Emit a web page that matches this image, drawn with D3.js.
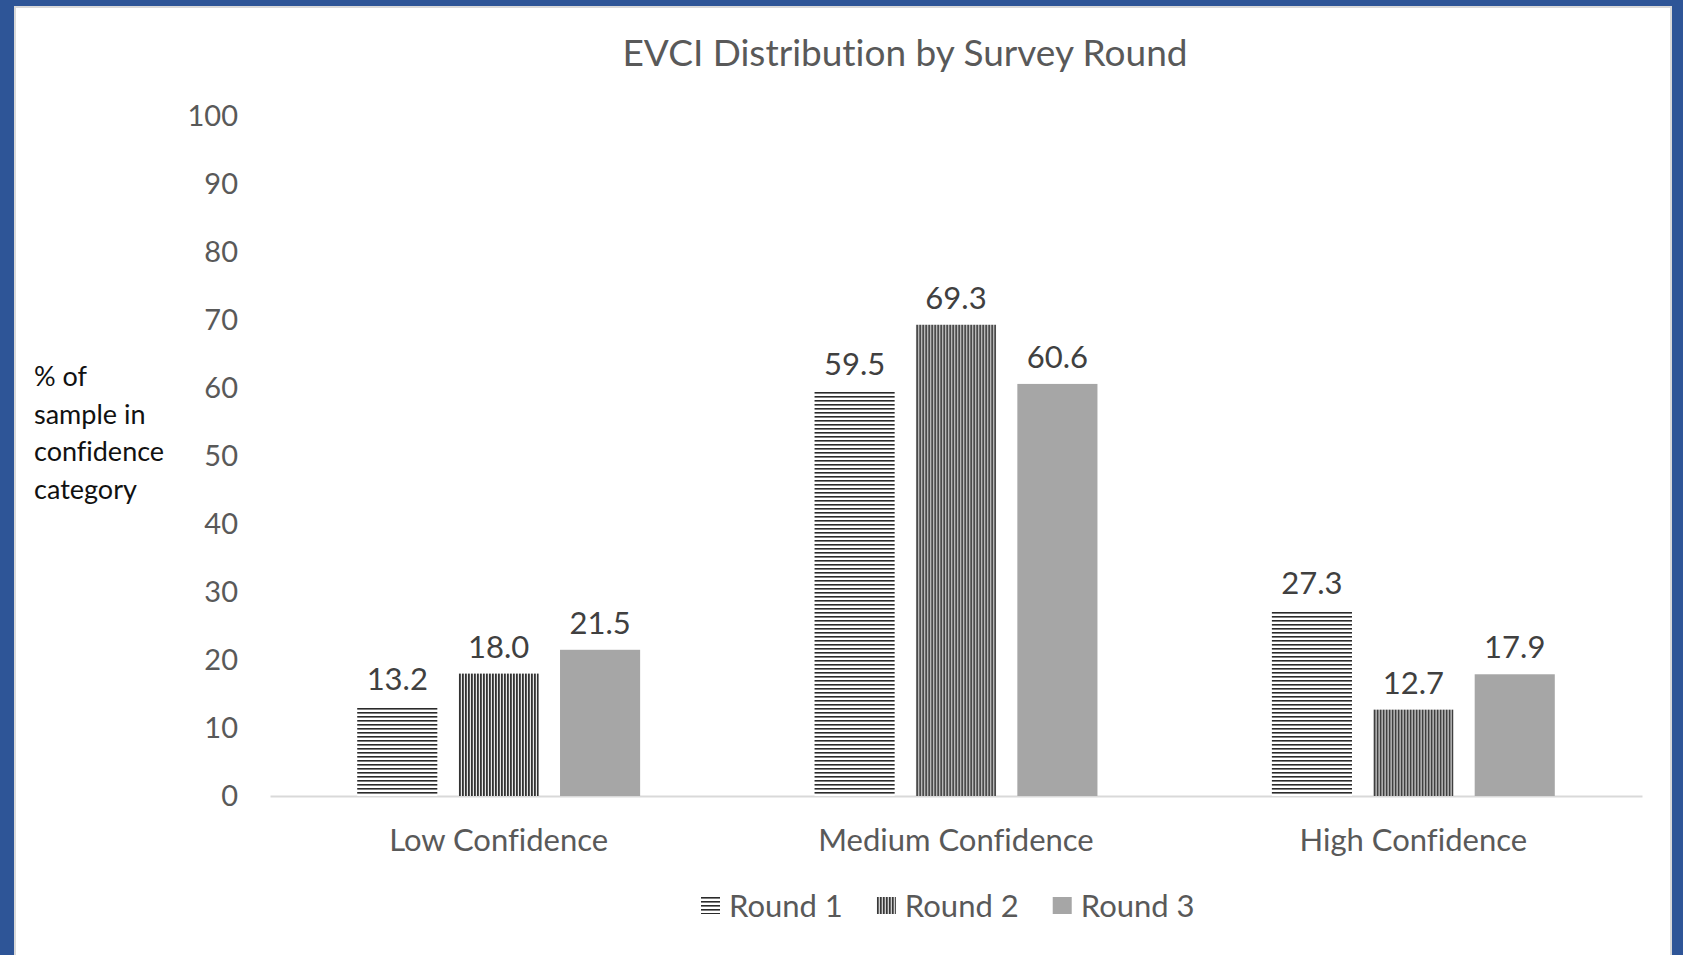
<!DOCTYPE html>
<html>
<head>
<meta charset="utf-8">
<script src="https://cdn.jsdelivr.net/npm/d3@7"></script>
<style>
  body { margin: 0; background: #2e5597; }
  svg { display: block; }
  text { font-family: Lato, 'Open Sans', sans-serif; font-variant-ligatures: none; }
</style>
</head>
<body>
<script>
const categories = ['Low Confidence', 'Medium Confidence', 'High Confidence'];
const rounds = ['Round 1', 'Round 2', 'Round 3'];
const round1 = [13.2, 59.5, 27.3];
const round2 = [18.0, 69.3, 12.7];
const round3 = [21.5, 60.6, 17.9];
const yTicks = [0, 10, 20, 30, 40, 50, 60, 70, 80, 90, 100];
const yTitleLines = ['% of', 'sample in', 'confidence', 'category'];

const width = 1683;
const height = 955;
const plotLeft = 270, plotRight = 1642, plotTop = 116, plotBottom = 796;

const seriesValues = [round1, round2, round3];
const rows = [];
categories.forEach((c, i) => {
    rounds.forEach((r, j) => {
        rows.push({category: c, round: r, value: seriesValues[j][i]});
    });
});

const svg = d3.select('body')
              .append('svg')
                .attr('width', width)
                .attr('height', height);

// patterns for the bar fills
const defs = svg.append('defs');
const horiz = defs.append('pattern')
                  .attr('id', 'horiz')
                  .attr('patternUnits', 'userSpaceOnUse')
                  .attr('width', 8)
                  .attr('height', 4);
horiz.append('rect').attr('width', 8).attr('height', 4).attr('fill', '#fff');
horiz.append('rect').attr('y', 0).attr('width', 8).attr('height', 1.6).attr('fill', '#2a2a2a');

const vert = defs.append('pattern')
                 .attr('id', 'vert')
                 .attr('patternUnits', 'userSpaceOnUse')
                 .attr('width', 3)
                 .attr('height', 8);
vert.append('rect').attr('width', 3).attr('height', 8).attr('fill', '#e8e8e8');
vert.append('rect').attr('x', 0).attr('width', 1.8).attr('height', 8).attr('fill', '#333');

const fills = {'Round 1': 'url(#horiz)', 'Round 2': 'url(#vert)', 'Round 3': '#a6a6a6'};

// frame
svg.append('rect')
     .attr('width', width)
     .attr('height', height)
     .attr('fill', '#2e5597');
svg.append('rect')
     .attr('x', 15)
     .attr('y', 7)
     .attr('width', 1656)
     .attr('height', 960)
     .attr('fill', '#fff')
     .attr('stroke', '#d9d9d9')
     .attr('stroke-width', 2);

const x0 = d3.scaleBand()
             .domain(categories)
             .range([plotLeft, plotRight])
             .padding(0);

const x1 = d3.scaleBand()
             .domain(rounds)
             .range([0, x0.bandwidth()])
             .paddingInner(0.21)
             .paddingOuter(0.86);

const y = d3.scaleLinear()
            .domain([0, 100])
            .range([plotBottom, plotTop]);

// title
svg.append('text')
     .attr('x', 905)
     .attr('y', 66)
     .attr('text-anchor', 'middle')
     .attr('font-size', 37)
     .attr('fill', '#595959')
     .text('EVCI Distribution by Survey Round');

// y axis (labels only)
const yAxis = svg.append('g')
                 .attr('transform', `translate(${plotLeft - 32}, 0)`)
                 .call(d3.axisLeft(y).tickValues(yTicks).tickSize(0).tickPadding(0));
yAxis.select('.domain').remove();
yAxis.selectAll('text')
     .attr('font-size', 29)
     .attr('fill', '#595959')
     .style('font-family', 'Lato, sans-serif');

// x axis
const xAxis = svg.append('g')
                 .attr('transform', `translate(0, ${plotBottom})`)
                 .call(d3.axisBottom(x0).tickSize(0).tickPadding(33));
xAxis.select('.domain').attr('stroke', '#d9d9d9').attr('stroke-width', 2);
xAxis.selectAll('text')
     .attr('font-size', 31)
     .attr('fill', '#595959')
     .style('font-family', 'Lato, sans-serif');

// y title
svg.append('text')
     .attr('x', 34)
     .attr('y', 386)
     .attr('font-size', 27)
     .attr('fill', '#111')
     .selectAll('tspan')
     .data(yTitleLines)
     .enter()
       .append('tspan')
         .attr('x', 34)
         .attr('dy', (d, i) => i === 0 ? 0 : 37.5)
         .text(d => d);

// bars
const groups = svg.selectAll('.cat')
                  .data(categories)
                  .enter()
                    .append('g')
                      .attr('transform', d => `translate(${x0(d)}, 0)`);

groups.selectAll('rect')
      .data(c => rows.filter(r => r.category === c))
      .enter()
        .append('rect')
          .attr('x', d => x1(d.round))
          .attr('y', d => y(d.value))
          .attr('width', x1.bandwidth())
          .attr('height', d => plotBottom - y(d.value))
          .attr('fill', d => fills[d.round]);

groups.selectAll('.lbl')
      .data(c => rows.filter(r => r.category === c))
      .enter()
        .append('text')
          .attr('x', d => x1(d.round) + x1.bandwidth() / 2)
          .attr('y', d => y(d.value) - 16)
          .attr('text-anchor', 'middle')
          .attr('font-size', 31)
          .attr('fill', '#404040')
          .text(d => d.value.toFixed(1));

// legend, laid out from measured text widths
const legend = svg.append('g').attr('transform', 'translate(701, 897)');
let cursor = 0;
rounds.forEach(r => {
    const item = legend.append('g').attr('transform', `translate(${cursor}, 0)`);
    item.append('rect')
          .attr('width', 19)
          .attr('height', 17)
          .attr('fill', fills[r]);
    const t = item.append('text')
                    .attr('x', 28)
                    .attr('y', 20)
                    .attr('font-size', 31)
                    .attr('fill', '#595959')
                    .text(r);
    cursor += 28 + t.node().getComputedTextLength() + 34;
});
</script>
</body>
</html>
